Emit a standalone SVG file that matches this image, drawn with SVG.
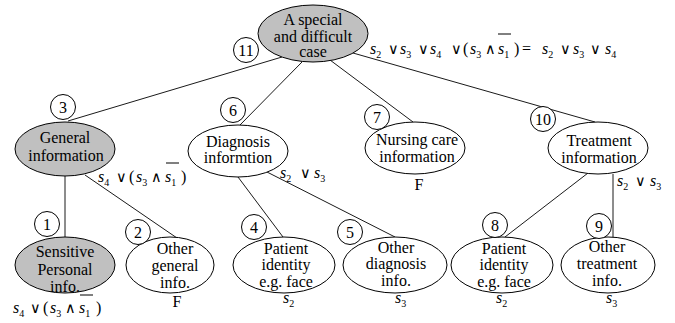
<svg xmlns="http://www.w3.org/2000/svg" width="675" height="323" viewBox="0 0 675 323">
  <style>
    .bg { fill: #ffffff; }
    .node { fill: #ffffff; stroke: #000000; stroke-width: 1; }
    .node.grey { fill: #c0c0c0; }
    .badge { fill: #ffffff; stroke: #000000; stroke-width: 1; }
    .edges line { stroke: #1a1a1a; stroke-width: 1; }
    .t { font-family: "Liberation Serif", "Times New Roman", serif; font-size: 16px; fill: #000000; text-anchor: middle; }
    .num { font-family: "Liberation Serif", "Times New Roman", serif; font-size: 16px; fill: #000000; text-anchor: middle; }
    .m { font-family: "Liberation Serif", "Times New Roman", serif; font-size: 16px; fill: #000000; }
    .v { font-style: italic; }
    .sub { font-size: 10px; }
    .op { font-family: "DejaVu Serif", "Liberation Serif", serif; font-size: 14.5px; }
    .bar { stroke: #000000; stroke-width: 1; }
  </style>

  <rect class="bg" x="0" y="0" width="675" height="323"/>

  <!-- tree edges -->
  <g id="connectors" class="edges">
    <line x1="282" y1="57" x2="68" y2="121"/>
    <line x1="302" y1="62" x2="240" y2="125"/>
    <line x1="330" y1="60" x2="413" y2="122"/>
    <line x1="353" y1="53" x2="595" y2="122"/>
    <line x1="65" y1="176" x2="65" y2="237"/>
    <line x1="85" y1="175" x2="177" y2="238"/>
    <line x1="238" y1="177" x2="283" y2="237"/>
    <line x1="267" y1="172" x2="395" y2="237"/>
    <line x1="588" y1="173" x2="505" y2="237"/>
    <line x1="613" y1="174" x2="613" y2="237"/>
  </g>

  <!-- root -->
  <g id="node-root">
    <ellipse class="node grey" cx="313" cy="33.5" rx="55" ry="28.5"/>
    <text class="t" x="313" y="25">A special</text>
    <text class="t" x="313" y="41.5">and difficult</text>
    <text class="t" x="313" y="57">case</text>
    <circle class="badge" cx="246" cy="50" r="12.5"/>
    <text class="num" x="246" y="55.5">11</text>
  </g>

  <g id="node-general">
    <ellipse class="node grey" cx="65" cy="149" rx="50" ry="27"/>
    <text class="t" x="65" y="143">General</text>
    <text class="t" x="66" y="161">information</text>
    <circle class="badge" cx="63" cy="107" r="12.5"/>
    <text class="num" x="63" y="112.5">3</text>
  </g>

  <g id="node-diagnosis">
    <ellipse class="node" cx="238" cy="151" rx="50" ry="26"/>
    <text class="t" x="238" y="147">Diagnosis</text>
    <text class="t" x="238" y="163">informtion</text>
    <circle class="badge" cx="233" cy="110" r="12.5"/>
    <text class="num" x="233" y="115.5">6</text>
  </g>

  <g id="node-nursing">
    <ellipse class="node" cx="415" cy="148" rx="50" ry="26"/>
    <text class="t" x="417" y="145">Nursing care</text>
    <text class="t" x="417" y="162">information</text>
    <text class="t" x="419" y="190">F</text>
    <circle class="badge" cx="377" cy="117" r="12.5"/>
    <text class="num" x="377" y="122.5">7</text>
  </g>

  <g id="node-treatment">
    <ellipse class="node" cx="598" cy="148" rx="50" ry="26"/>
    <text class="t" x="599" y="146">Treatment</text>
    <text class="t" x="599" y="163">information</text>
    <circle class="badge" cx="543" cy="119" r="12.5"/>
    <text class="num" x="543" y="124.5">10</text>
  </g>

  <g id="node-sensitive">
    <ellipse class="node grey" cx="65" cy="265" rx="50" ry="28"/>
    <text class="t" x="65" y="257">Sensitive</text>
    <text class="t" x="65" y="275">Personal</text>
    <text class="t" x="65" y="292">info.</text>
    <circle class="badge" cx="47" cy="224" r="12.5"/>
    <text class="num" x="47" y="229.5">1</text>
  </g>

  <g id="node-other-general">
    <ellipse class="node" cx="170" cy="265" rx="44" ry="28"/>
    <text class="t" x="175" y="254">Other</text>
    <text class="t" x="175" y="271">general</text>
    <text class="t" x="175" y="288">info.</text>
    <text class="t" x="177" y="307">F</text>
    <circle class="badge" cx="138" cy="232" r="12.5"/>
    <text class="num" x="138" y="237.5">2</text>
  </g>

  <g id="node-patient-diagnosis">
    <ellipse class="node" cx="284" cy="265" rx="51" ry="28"/>
    <text class="t" x="286" y="254">Patient</text>
    <text class="t" x="286" y="270">identity</text>
    <text class="t" x="286" y="287">e.g. face</text>
    <circle class="badge" cx="254" cy="227" r="12.5"/>
    <text class="num" x="254" y="232.5">4</text>
  </g>

  <g id="node-other-diagnosis">
    <ellipse class="node" cx="395" cy="265" rx="52" ry="28"/>
    <text class="t" x="396" y="253">Other</text>
    <text class="t" x="396" y="269">diagnosis</text>
    <text class="t" x="396" y="286">info.</text>
    <circle class="badge" cx="350" cy="232" r="12.5"/>
    <text class="num" x="350" y="237.5">5</text>
  </g>

  <g id="node-patient-treatment">
    <ellipse class="node" cx="502" cy="265" rx="51" ry="28"/>
    <text class="t" x="504" y="254">Patient</text>
    <text class="t" x="504" y="270">identity</text>
    <text class="t" x="504" y="287">e.g. face</text>
    <circle class="badge" cx="495" cy="225" r="12.5"/>
    <text class="num" x="495" y="230.5">8</text>
  </g>

  <g id="node-other-treatment">
    <ellipse class="node" cx="608" cy="265" rx="47" ry="28"/>
    <text class="t" x="607" y="252">Other</text>
    <text class="t" x="607" y="269">treatment</text>
    <text class="t" x="607" y="286">info.</text>
    <circle class="badge" cx="599" cy="226" r="12.5"/>
    <text class="num" x="599" y="231.5">9</text>
  </g>

  <!-- boolean labels -->
  <g id="labels">
    <text class="m" y="54"><tspan class="v" x="370">s</tspan><tspan class="sub" dy="4">2</tspan><tspan class="op" x="388" dy="-4">∨</tspan><tspan class="v" x="400">s</tspan><tspan class="sub" dy="4">3</tspan><tspan class="op" x="418" dy="-4">∨</tspan><tspan class="v" x="430">s</tspan><tspan class="sub" dy="4">4</tspan><tspan class="op" x="451" dy="-4">∨</tspan><tspan x="463">(</tspan><tspan class="v" x="470">s</tspan><tspan class="sub" dy="4">3</tspan><tspan class="op" x="485" dy="-4">∧</tspan><tspan class="v" x="498">s</tspan><tspan class="sub" dy="4">1</tspan><tspan x="514" dy="-4">)</tspan><tspan x="522">=</tspan><tspan class="v" x="542">s</tspan><tspan class="sub" dy="4">2</tspan><tspan class="op" x="560" dy="-4">∨</tspan><tspan class="v" x="573">s</tspan><tspan class="sub" dy="4">3</tspan><tspan class="op" x="590" dy="-4">∨</tspan><tspan class="v" x="605">s</tspan><tspan class="sub" dy="4">4</tspan></text>
    <line class="bar" x1="498" y1="34" x2="511" y2="34"/>

    <text class="m" y="182"><tspan class="v" x="98">s</tspan><tspan class="sub" dy="4">4</tspan><tspan class="op" x="116" dy="-4">∨</tspan><tspan x="129">(</tspan><tspan class="v" x="136">s</tspan><tspan class="sub" dy="4">3</tspan><tspan class="op" x="151" dy="-4">∧</tspan><tspan class="v" x="165">s</tspan><tspan class="sub" dy="4">1</tspan><tspan x="181" dy="-4">)</tspan></text>
    <line class="bar" x1="166" y1="163" x2="179" y2="163"/>

    <text class="m" y="313"><tspan class="v" x="13">s</tspan><tspan class="sub" dy="4">4</tspan><tspan class="op" x="30" dy="-4">∨</tspan><tspan x="43">(</tspan><tspan class="v" x="50">s</tspan><tspan class="sub" dy="4">3</tspan><tspan class="op" x="65" dy="-4">∧</tspan><tspan class="v" x="79">s</tspan><tspan class="sub" dy="4">1</tspan><tspan x="96" dy="-4">)</tspan></text>
    <line class="bar" x1="80" y1="295" x2="93" y2="295"/>

    <text class="m" y="178"><tspan class="v" x="280">s</tspan><tspan class="sub" dy="4">2</tspan><tspan class="op" x="300" dy="-4">∨</tspan><tspan class="v" x="314">s</tspan><tspan class="sub" dy="4">3</tspan></text>
    <text class="m" y="186"><tspan class="v" x="617">s</tspan><tspan class="sub" dy="4">2</tspan><tspan class="op" x="635" dy="-4">∨</tspan><tspan class="v" x="650">s</tspan><tspan class="sub" dy="4">3</tspan></text>

    <text class="m" y="303"><tspan class="v" x="283">s</tspan><tspan class="sub" dy="4">2</tspan></text>
    <text class="m" y="303"><tspan class="v" x="395">s</tspan><tspan class="sub" dy="4">3</tspan></text>
    <text class="m" y="303"><tspan class="v" x="496">s</tspan><tspan class="sub" dy="4">2</tspan></text>
    <text class="m" y="303"><tspan class="v" x="606">s</tspan><tspan class="sub" dy="4">3</tspan></text>
  </g>
</svg>
